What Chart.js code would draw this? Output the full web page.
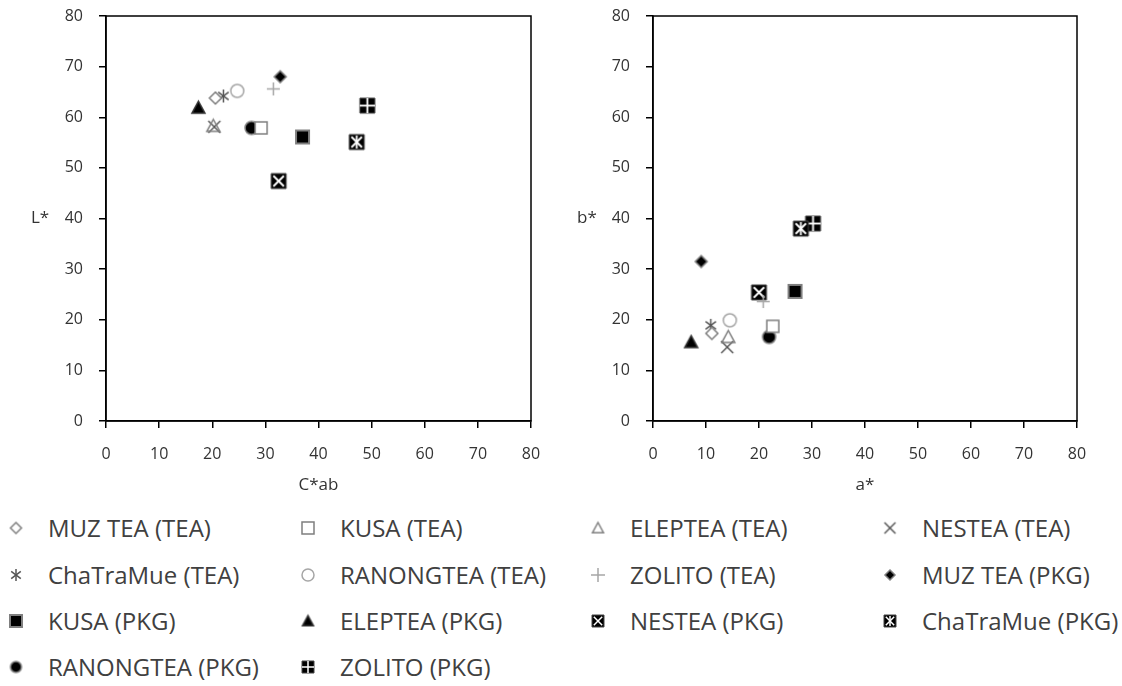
<!DOCTYPE html>
<html>
<head>
<meta charset="utf-8">
<script src="https://cdn.jsdelivr.net/npm/chart.js@4"></script>
<style>
  body { margin: 0; background: #fff; width: 1122px; height: 686px; overflow: hidden; position: relative; font-family: 'Open Sans', sans-serif; }
  #leftChart { position: absolute; left: 0; top: 0; }
  #rightChart { position: absolute; left: 560px; top: 0; }
  .item { position: absolute; height: 34px; color: #404040; font-size: 24px; line-height: 34px; white-space: nowrap; }
  .item canvas { position: absolute; top: 50%; transform: translate(-50%, -50%); }
</style>
</head>
<body>
<canvas id="leftChart" width="560" height="500"></canvas>
<canvas id="rightChart" width="562" height="500"></canvas>
<div id="legend"></div>
<script>
// series, in legend order
const seriesNames = [
  "MUZ TEA (TEA)", "KUSA (TEA)", "ELEPTEA (TEA)", "NESTEA (TEA)",
  "ChaTraMue (TEA)", "RANONGTEA (TEA)", "ZOLITO (TEA)", "MUZ TEA (PKG)",
  "KUSA (PKG)", "ELEPTEA (PKG)", "NESTEA (PKG)", "ChaTraMue (PKG)",
  "RANONGTEA (PKG)", "ZOLITO (PKG)"
];
const markers = [
  "diamondOpen", "squareOpen", "triangleOpen", "x",
  "asterisk", "circleOpen", "plus", "diamondFill",
  "squareFill", "triangleFill", "squareX", "squareAst",
  "circleFill", "squarePlus"
];
// left chart: C*ab vs L*
const chromaValues = [20.6, 29.2, 20.2, 20.4, 22.1, 24.7, 31.5, 32.8, 37.0, 17.4, 32.5, 47.2, 27.4, 49.2];
const lightValues  = [63.8, 57.9, 58.3, 58.1, 64.2, 65.2, 65.6, 68.0, 56.1, 61.9, 47.4, 55.1, 57.9, 62.3];
// right chart: a* vs b*
const aValues = [11.1, 22.6, 14.2, 14.0, 10.9, 14.5, 20.8, 9.1, 26.8, 7.2, 20.0, 27.9, 21.9, 30.2];
const bValues = [17.3, 18.7, 16.6, 14.6, 18.9, 19.9, 23.6, 31.5, 25.6, 15.6, 25.4, 38.0, 16.6, 39.0];
const tickValues = [0, 10, 20, 30, 40, 50, 60, 70, 80];

const GRAY = "#7f7f7f", DARK = "#555", LIGHT = "#a6a6a6";

function drawMarker(g, kind, c, s) {
  const h = s / 2;
  g.lineWidth = 1.5;
  const sq = () => { g.beginPath(); g.rect(c - h, c - h, s, s); };
  const tri = () => { g.beginPath(); g.moveTo(c, c - h); g.lineTo(c + h, c + h * 0.85); g.lineTo(c - h, c + h * 0.85); g.closePath(); };
  const dia = () => { g.beginPath(); g.moveTo(c, c - h); g.lineTo(c + h, c); g.lineTo(c, c + h); g.lineTo(c - h, c); g.closePath(); };
  const line = (x1, y1, x2, y2) => { g.beginPath(); g.moveTo(x1, y1); g.lineTo(x2, y2); g.stroke(); };
  switch (kind) {
    case "diamondOpen": dia(); g.fillStyle = "#fff"; g.fill(); g.strokeStyle = GRAY; g.stroke(); break;
    case "squareOpen": sq(); g.fillStyle = "#fff"; g.fill(); g.strokeStyle = GRAY; g.stroke(); break;
    case "triangleOpen": tri(); g.strokeStyle = GRAY; g.stroke(); break;
    case "x": g.strokeStyle = DARK; line(c - h, c - h, c + h, c + h); line(c - h, c + h, c + h, c - h); break;
    case "asterisk": g.strokeStyle = DARK; line(c, c - h, c, c + h); line(c - h * 0.8, c - h * 0.6, c + h * 0.8, c + h * 0.6); line(c - h * 0.8, c + h * 0.6, c + h * 0.8, c - h * 0.6); break;
    case "circleOpen": g.beginPath(); g.arc(c, c, h, 0, Math.PI * 2); g.strokeStyle = LIGHT; g.stroke(); break;
    case "plus": g.strokeStyle = LIGHT; line(c, c - h, c, c + h); line(c - h, c, c + h, c); break;
    case "diamondFill": dia(); g.fillStyle = "#000"; g.fill(); g.strokeStyle = GRAY; g.stroke(); break;
    case "squareFill": sq(); g.fillStyle = "#000"; g.fill(); g.lineWidth = 2; g.strokeStyle = GRAY; g.stroke(); break;
    case "triangleFill": tri(); g.fillStyle = "#000"; g.fill(); g.strokeStyle = "#333"; g.stroke(); break;
    case "circleFill": g.beginPath(); g.arc(c, c, h, 0, Math.PI * 2); g.fillStyle = "#000"; g.fill(); g.strokeStyle = GRAY; g.stroke(); break;
    case "squareX": case "squareAst": case "squarePlus": {
      sq(); g.fillStyle = "#000"; g.fill(); g.strokeStyle = "#444"; g.lineWidth = 1; g.stroke();
      g.strokeStyle = "#fff"; g.lineWidth = Math.max(1.5, s / 8);
      const k = h - s * 0.15;
      if (kind === "squarePlus") { line(c, c - h, c, c + h); line(c - h, c, c + h, c); }
      else {
        line(c - k, c - k, c + k, c + k); line(c - k, c + k, c + k, c - k);
        if (kind === "squareAst") line(c, c - h + 1, c, c + h - 1);
      }
      break;
    }
  }
}

function makeIcon(kind, s) {
  const cv = document.createElement("canvas");
  const size = Math.ceil(s + 4);
  cv.width = size; cv.height = size;
  drawMarker(cv.getContext("2d"), kind, size / 2, s);
  return cv;
}

const plotSizes = { diamondOpen: 12, squareOpen: 12, triangleOpen: 13, x: 12, asterisk: 13, circleOpen: 13, plus: 13,
  diamondFill: 12, squareFill: 13, triangleFill: 13, squareX: 15, squareAst: 15, circleFill: 13, squarePlus: 15 };

const frame = {
  id: "frame",
  afterDraw(chart, args, opts) {
    const { ctx, chartArea: a } = chart;
    ctx.save();
    ctx.strokeStyle = "#000";
    ctx.lineWidth = 1.5;
    ctx.strokeRect(a.left, a.top, a.right - a.left, a.bottom - a.top);
    ctx.fillStyle = "#333";
    ctx.font = "17px 'Open Sans'";
    ctx.textAlign = "center";
    ctx.textBaseline = "middle";
    ctx.fillText(opts.xTitle, (a.left + a.right) / 2, opts.xTitleY);
    ctx.fillText(opts.yTitle, opts.yTitleX, chart.scales.y.getPixelForValue(40));
    ctx.restore();
  }
};

function axis(fit, pad) {
  return {
    type: "linear", min: 0, max: 80,
    afterBuildTicks: s => { s.ticks = tickValues.map(v => ({ value: v })); },
    ticks: { color: "#333", font: { family: "'Open Sans'", size: 16 }, padding: pad },
    grid: { drawOnChartArea: false, tickLength: 7, color: "#000", lineWidth: 1.5 },
    border: { color: "#000", width: 1.5 },
    afterFit: fit
  };
}

function makeChart(id, xs, ys, xTitle, yTitle, yTitleX, padLeft, padRight, yWidth) {
  const datasets = seriesNames.map((name, i) => ({
    label: name,
    data: [{ x: xs[i], y: ys[i] }],
    pointStyle: makeIcon(markers[i], plotSizes[markers[i]]),
    pointRadius: 7
  }));
  return new Chart(document.getElementById(id), {
    type: "scatter",
    data: { datasets },
    plugins: [frame],
    options: {
      responsive: false,
      animation: false,
      layout: { padding: { left: padLeft, right: padRight, top: 16, bottom: 0 } },
      plugins: { legend: { display: false }, tooltip: { enabled: false },
        frame: { xTitle, yTitle, yTitleX, xTitleY: 485 } },
      scales: {
        x: axis(s => { s.height = 79; s.paddingLeft = 0; s.paddingRight = 0; }, 17),
        y: axis(s => { s.width = yWidth; s.paddingTop = 0; s.paddingBottom = 0; }, 16)
      }
    }
  });
}

makeChart("leftChart", chromaValues, lightValues, "C*ab", "L*", 40, 50, 29, 56);
makeChart("rightChart", aValues, bValues, "a*", "b*", 27, 40, 45, 53);

// legend below both charts
const legend = document.getElementById("legend");
const colX = [16, 308, 598, 890];
const rowY = [528, 575, 621, 667];
const legendSizes = { diamondOpen: 11, squareOpen: 12, triangleOpen: 11, x: 11, asterisk: 12, circleOpen: 12, plus: 14,
  diamondFill: 10, squareFill: 12, triangleFill: 11, squareX: 12, squareAst: 12, circleFill: 11, squarePlus: 12 };
seriesNames.forEach((name, i) => {
  const col = i % 4, row = Math.floor(i / 4);
  const item = document.createElement("div");
  item.className = "item";
  item.style.left = colX[col] + "px";
  item.style.top = (rowY[row] - 17) + "px";
  const icon = makeIcon(markers[i], legendSizes[markers[i]]);
  icon.style.left = "0px";
  item.appendChild(icon);
  const label = document.createElement("span");
  label.textContent = name;
  label.style.marginLeft = "32px";
  item.appendChild(label);
  legend.appendChild(item);
});
</script>
</body>
</html>
